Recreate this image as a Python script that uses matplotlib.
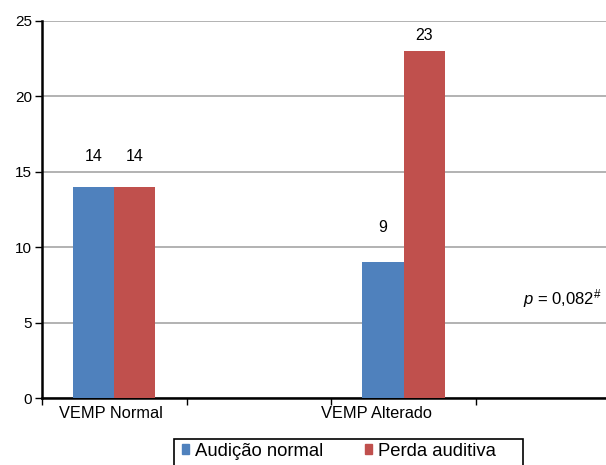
import matplotlib.pyplot as plt
from matplotlib.patches import Patch, Rectangle

plt.rcParams["font.family"] = ["Liberation Sans", "DejaVu Sans"]
plt.rcParams["mathtext.fontset"] = "custom"
plt.rcParams["mathtext.rm"] = "Liberation Sans"
plt.rcParams["mathtext.it"] = "Liberation Sans:italic"

categories = ["VEMP Normal", "VEMP Alterado"]
series_names = ["Audição normal", "Perda auditiva"]
normal = [14, 9]
perda = [14, 23]
yticks = [0, 5, 10, 15, 20, 25]

colors = ["#4F81BD", "#C0504D"]
W, H = 606, 465
fig = plt.figure(figsize=(W / 100, H / 100), dpi=100)
ax = fig.add_axes([42 / W, 1 - 398 / H, 1 - 42 / W, (398 - 21) / H])

pos = [0, 2]
bw = 0.284
b1 = ax.bar([p - bw / 2 for p in pos], normal, bw, color=colors[0], zorder=3)
b2 = ax.bar([p + bw / 2 for p in pos], perda, bw, color=colors[1], zorder=3)

# label offsets (points) roughly as Excel placed them
offs = [[22, 22], [25, 11]]
for bars, vals, off in ((b1, normal, [offs[0][0], offs[1][0]]), (b2, perda, [offs[0][1], offs[1][1]])):
    for r, v, o in zip(bars, vals, off):
        ax.annotate(str(v), (r.get_x() + r.get_width() / 2, v), xytext=(0, o),
                    textcoords="offset points", ha="center", va="center", fontsize=11.5)

ax.set_xlim(-0.5, 3.40)
ax.set_ylim(0, 25)
ax.set_yticks(yticks)
ax.yaxis.grid(True, color="#a6a6a6", linewidth=1.2, zorder=0)
ax.tick_params(axis="y", length=5, width=1, labelsize=11, pad=2)
ax.set_xticks([-0.5, 0.5, 1.5, 2.5])
ax.set_xticklabels([])
ax.tick_params(axis="x", length=5, width=1)
for x, lab in zip([-0.02, 1.81], categories):
    ax.text(x, -0.55, lab, ha="center", va="top", fontsize=11.8,
            transform=ax.transData)

for s in ["top", "right"]:
    ax.spines[s].set_visible(False)
for s in ["left", "bottom"]:
    ax.spines[s].set_linewidth(1.8)

ax.text(3.37, 6.6, r"$\it{p}$ = 0,082$^{\#}$", ha="right", va="center", fontsize=12)

# legend box, cut off at the bottom edge like the original
fig.patches.append(Rectangle((174 / W, -0.05), (523 - 174) / W, 0.05 + 1 - 439 / H,
                             transform=fig.transFigure, fill=False,
                             edgecolor="black", linewidth=1.2))
handles = [Patch(color=c) for c in colors]
fig.legend(handles, series_names, loc="center left",
           bbox_to_anchor=(182 / W, 1 - 451 / H), ncol=2, fontsize=13.3,
           frameon=False, handlelength=0.4, handleheight=0.4,
           handletextpad=0.3, columnspacing=2.25, borderpad=0, borderaxespad=0)

fig.savefig("out.png", dpi=100)
